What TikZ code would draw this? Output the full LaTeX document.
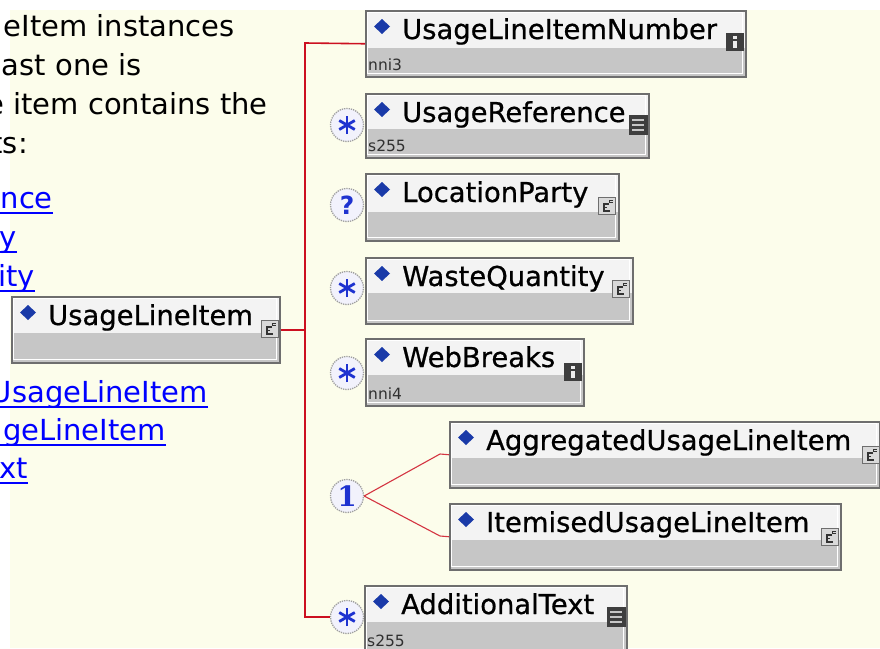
\documentclass[tikz,border=0pt]{standalone}
\usepackage{fontspec}
\setmainfont{DejaVu Sans}
\newfontfamily\labelfont[FakeBold=0.7]{DejaVu Sans}
\newfontfamily\typefont{DejaVu Sans}
\newfontfamily\serifbold{DejaVu Serif}
\usetikzlibrary{calc}

\definecolor{pagebg}{HTML}{FCFDEB}
\definecolor{boxtop}{HTML}{F3F3F3}
\definecolor{boxbot}{HTML}{C6C6C6}
\definecolor{boxline}{HTML}{6E6E6E}
\definecolor{diam}{HTML}{1A3AA8}
\definecolor{symblue}{HTML}{1E32D0}
\definecolor{occfill}{HTML}{F2F2FC}
\definecolor{conn}{HTML}{CC1020}
\definecolor{linkblue}{HTML}{0000FF}
\definecolor{icondark}{HTML}{3E3E3E}
\definecolor{subgray}{HTML}{303030}

\tikzset{
  txt/.style={inner sep=0, anchor=base east, font=\fontsize{29}{34}\selectfont},
  linktxt/.style={txt, text=linkblue},
  elbox/.style={draw=boxline, line width=1.5pt, inner sep=0, rectangle},
  lab/.style={inner sep=0, anchor=base west, font=\labelfont\fontsize{27.4}{32}\selectfont},
  sub/.style={inner sep=0, anchor=base west, text=subgray, font=\typefont\fontsize{15.5}{18}\selectfont},
  occ/.style={circle, draw=gray!75, densely dotted, line width=1.3pt, fill=occfill,
              minimum size=33pt, inner sep=0, text=symblue},
  connline/.style={draw=conn, line width=1.6pt},
  choiceline/.style={draw=conn!85!white, line width=1.1pt},
}

% element box: name, left, top, right, bottom, split line, label, type text
\newcommand\elem[8]{%
  \fill[boxbot] (#2,#6) rectangle (#4,#5);
  \fill[boxtop] (#2,#3) rectangle (#4,#6);
  \draw[white, line width=1pt] (#2+2.5,#3+2.5) rectangle (#4-2.5,#5-2.5);
  \node[elbox, anchor=north west, minimum width={(#4-#2)*1pt},
        minimum height={(#5-#3)*1pt}] (#1) at (#2,#3) {};
  \fill[diam] (#2+17,#3+9) -- (#2+25,#3+16.5) -- (#2+17,#3+24) -- (#2+9,#3+16.5) -- cycle;
  \node[lab] (#1-name) at (#2+37,#3+29) {#7};
  \node[sub] (#1-type) at (#2+3,#5-6) {#8};
}

% small type icons, given by their centre
\newcommand\iconinfo[2]{%
  \fill[icondark] (#1-9,#2-9) rectangle (#1+9,#2+9);
  \fill[white!85!gray] (#1-1.7,#2-6.5) rectangle (#1+1.7,#2-3.5);
  \fill[white!85!gray] (#1-1.7,#2-1.5) rectangle (#1+1.7,#2+6);
}
\newcommand\iconlist[2]{%
  \fill[icondark] (#1-9.5,#2-10) rectangle (#1+9.5,#2+10);
  \foreach \d in {-5,0,5}
    \draw[gray!45, line width=2pt] (#1-6,#2+\d) -- (#1+6,#2+\d);
}
\newcommand\iconcplx[2]{%
  \draw[boxline, fill=gray!30, line width=1pt] (#1-8.5,#2-8.5) rectangle (#1+8.5,#2+8.5);
  \draw[black!80, line width=1.1pt]
    (#1+2,#2-2) -- (#1-3,#2-2) -- (#1-3,#2+5) -- (#1+3,#2+5)
    (#1-3,#2+1.5) -- (#1,#2+1.5);
  \draw[black!80, line width=0.8pt]
    (#1+5.5,#2-6) -- (#1+2.5,#2-6) -- (#1+2.5,#2-3.5) -- (#1+5.5,#2-3.5);
}
% asterisk inside an occurrence circle
\newcommand\aster[1]{%
  \foreach \a in {90,30,150}
    \draw[symblue, line width=2.8pt] ($(#1)+(\a:9)$) -- ($(#1)+(\a+180:9)$);
}

\begin{document}
\begin{tikzpicture}[x=1pt,y=-1pt]
  \useasboundingbox (0,0) rectangle (880,648);
  \clip (0,0) rectangle (880,648);
  \fill[white] (0,0) rectangle (880,648);
  \fill[pagebg] (10,10) rectangle (880,648);

  % description text on the left
  \node[txt] (t1) at (235,36) {eItem instances};
  \node[txt] (t2) at (142,75) {ast one is};
  \node[txt] (t3) at (268,114) {e item contains the};
  \node[txt] (t4) at (28,153) {ts:};

  \node[linktxt] (l1) at (53,208) {ence};
  \node[linktxt] (l2) at (17,247) {y};
  \node[linktxt] (l3) at (35,286) {ity};
  \node[linktxt] (l4) at (208,402) {UsageLineItem};
  \node[linktxt] (l5) at (166,440) {geLineItem};
  \node[linktxt] (l6) at (28,478) {xt};
  \foreach \l in {l1,l2,l3,l4,l5,l6}
    \draw[linkblue, line width=2pt] ($(\l.base east)+(0,5)$) -- ++(-300,0);

  % connectors
  \coordinate (spinetop) at (305,43);
  \coordinate (spinebot) at (305,617);
  \coordinate (ka) at (440,454);
  \coordinate (ki) at (440,536);

  \node[occ] (refc)   at (347,125) {};
  \node[occ] (locc)   at (347,205) {};
  \node[occ] (wastec) at (347,288) {};
  \node[occ] (webc)   at (347,373) {};
  \node[occ] (onec)   at (347,496) {};
  \node[occ] (addc)   at (347,617) {};

  \elem{main}{11}{296}{279}{362}{333}{UsageLineItem}{}
  \elem{num}{365}{10}{745}{76}{48}{UsageLineItemNumber}{nni3}
  \elem{ref}{365}{93}{648}{157}{129}{UsageReference}{s255}
  \elem{loc}{365}{173}{618}{240}{212}{LocationParty}{}
  \elem{waste}{365}{257}{632}{323}{293}{WasteQuantity}{}
  \elem{web}{365}{338}{583}{405}{375}{WebBreaks}{nni4}
  \elem{agg}{449}{421}{879}{487}{458}{AggregatedUsageLineItem}{}
  \elem{item}{449}{503}{840}{569}{540}{ItemisedUsageLineItem}{}
  \elem{add}{364}{585}{626}{652}{622}{AdditionalText}{s255}

  \draw[connline] (num.west) -- (spinetop) -- (spinebot) -- (addc.west);
  \draw[connline] (main.east) -- (main.east -| spinetop);
  \draw[choiceline] (onec.east) -- (ka) -- (agg.west);
  \draw[choiceline] (onec.east) -- (ki) -- (item.west);

  % occurrence symbols
  \aster{refc}
  \aster{wastec}
  \aster{webc}
  \aster{addc}
  \node[text=symblue, font=\bfseries\fontsize{25}{25}\selectfont] at (locc) {?};
  \node[text=symblue, font=\serifbold\bfseries\fontsize{28}{28}\selectfont] at (onec) {1};

  % type icons
  \iconcplx{270}{329}
  \iconinfo{735}{42}
  \iconlist{638}{125}
  \iconcplx{607}{206}
  \iconcplx{621}{289}
  \iconinfo{573}{372}
  \iconcplx{871}{455}
  \iconcplx{830}{537}
  \iconlist{616}{617}
\end{tikzpicture}
\end{document}
